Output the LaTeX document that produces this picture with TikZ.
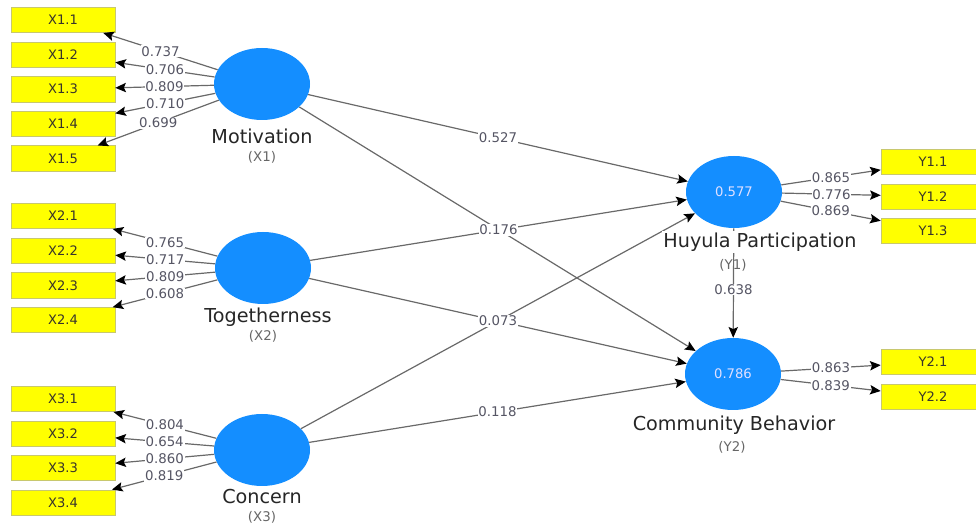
\documentclass[tikz,border=0pt]{standalone}
\usepackage{fontspec}
\setmainfont{DejaVu Sans}
\usetikzlibrary{shapes.geometric, arrows.meta}

\definecolor{lvblue}{RGB}{20,142,255}
\definecolor{mvyellow}{RGB}{255,255,0}
\definecolor{mvborder}{RGB}{200,200,110}
\definecolor{pathgray}{RGB}{105,105,105}
\definecolor{numgray}{RGB}{85,85,100}

\begin{document}
\begin{tikzpicture}[x=0.75pt, y=-0.75pt,
    latent/.style={ellipse, fill=lvblue, minimum width=72pt, minimum height=54pt, inner sep=0pt,
      text=white!88!blue, font=\fontsize{9.9}{11}\selectfont},
    indicator/.style={rectangle, draw=mvborder, fill=mvyellow, minimum width=78pt, minimum height=19pt,
      inner sep=0pt, text=black!80!olive, font=\fontsize{9.8}{11}\selectfont},
    conn/.style={draw=pathgray, line width=0.9pt, -{Stealth[length=8pt, width=7pt, inset=1.5pt, color=black]}},
    coef/.style={fill=white, inner sep=0.6pt, text=numgray, font=\fontsize{10}{11}\selectfont},
    lvname/.style={fill=white, inner sep=1pt, text=black!85, font=\fontsize{14.4}{16}\selectfont},
    lvcode/.style={inner sep=0.5pt, text=black!60, font=\fontsize{10}{11}\selectfont}]
  \useasboundingbox (0,0) rectangle (976,523);

  % latent variables
  \node[latent] (X1) at (262,84) {};
  \node[latent] (X2) at (263,268) {};
  \node[latent] (X3) at (262,450) {};
  \node[latent] (Y1) at (734,192) {0.577};
  \node[latent] (Y2) at (733,374) {0.786};

  \node[lvcode] (X1code) at (262,157) {(X1)};
  \node[lvcode] (X2code) at (263,336) {(X2)};
  \node[lvcode] (X3code) at (262,517) {(X3)};
  \node[lvcode] (Y1code) at (733,265) {(Y1)};
  \node[lvcode] (Y2code) at (732,447) {(Y2)};

  % indicators
  \node[indicator] (X11) at (63,20) {X1.1};
  \node[indicator] (X12) at (63,54.6) {X1.2};
  \node[indicator] (X13) at (63,89.2) {X1.3};
  \node[indicator] (X14) at (63,123.8) {X1.4};
  \node[indicator] (X15) at (63,158.4) {X1.5};

  \node[indicator] (X21) at (63,216) {X2.1};
  \node[indicator] (X22) at (63,250.7) {X2.2};
  \node[indicator] (X23) at (63,285.4) {X2.3};
  \node[indicator] (X24) at (63,320.1) {X2.4};

  \node[indicator] (X31) at (63,399) {X3.1};
  \node[indicator] (X32) at (63,433.5) {X3.2};
  \node[indicator] (X33) at (63,468) {X3.3};
  \node[indicator] (X34) at (63,502.5) {X3.4};

  \node[indicator] (Y11) at (933,162) {Y1.1};
  \node[indicator] (Y12) at (933,196.5) {Y1.2};
  \node[indicator] (Y13) at (933,231) {Y1.3};
  \node[indicator] (Y21) at (933,362) {Y2.1};
  \node[indicator] (Y22) at (933,397) {Y2.2};

  % outer loadings
  \path (X1) edge[conn] node[coef] {0.737} (X11);
  \path (X1) edge[conn] node[coef] {0.706} (X12);
  \path (X1) edge[conn] node[coef] {0.809} (X13);
  \path (X1) edge[conn] node[coef] {0.710} (X14);
  \path (X1) edge[conn] node[coef] {0.699} (X15);

  \path (X2) edge[conn] node[coef] {0.765} (X21);
  \path (X2) edge[conn] node[coef] {0.717} (X22);
  \path (X2) edge[conn] node[coef] {0.809} (X23);
  \path (X2) edge[conn] node[coef] {0.608} (X24);

  \path (X3) edge[conn] node[coef] {0.804} (X31);
  \path (X3) edge[conn] node[coef] {0.654} (X32);
  \path (X3) edge[conn] node[coef] {0.860} (X33);
  \path (X3) edge[conn] node[coef] {0.819} (X34);

  \path (Y1) edge[conn] node[coef] {0.865} (Y11);
  \path (Y1) edge[conn] node[coef] {0.776} (Y12);
  \path (Y1) edge[conn] node[coef] {0.869} (Y13);
  \path (Y2) edge[conn] node[coef] {0.863} (Y21);
  \path (Y2) edge[conn] node[coef] {0.839} (Y22);

  % inner model
  \path (X1) edge[conn] (Y2);
  \path (X3) edge[conn] (Y1);
  \path (X1) edge[conn] node[coef] {0.527} (Y1);
  \path (X2) edge[conn] node[coef] {0.176} (Y1);
  \path (X2) edge[conn] node[coef] {0.073} (Y2);
  \path (X3) edge[conn] node[coef] {0.118} (Y2);
  \path (Y1) edge[conn] node[coef, pos=0.56] {0.638} (Y2);

  % names on top
  \node[lvname] (X1name) at (262,136) {Motivation};
  \node[lvname] (X2name) at (268,317) {Togetherness};
  \node[lvname] (X3name) at (262,497) {Concern};
  \node[lvname] (Y1name) at (760,242) {Huyula Participation};
  \node[lvname] (Y2name) at (734,425) {Community Behavior};
\end{tikzpicture}
\end{document}
